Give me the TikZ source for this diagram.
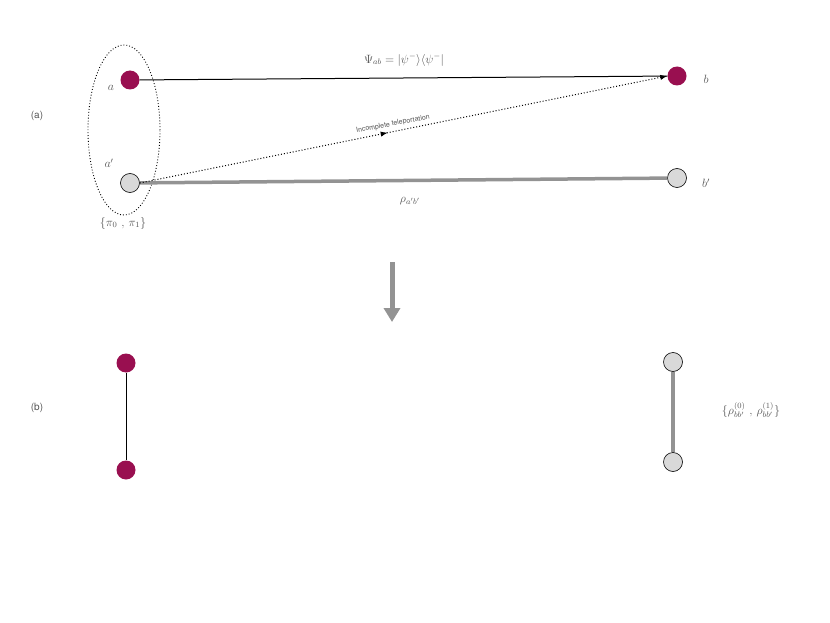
\documentclass[tikz,border=0pt]{standalone}
\usepackage{fontspec}
\setsansfont{TeX Gyre Heros}
\usetikzlibrary{arrows.meta,decorations.markings,shapes.geometric}
\definecolor{mag}{HTML}{990F50}
\definecolor{lgray}{HTML}{D9D9D9}
\definecolor{txt}{HTML}{555555}
\begin{document}
\begin{tikzpicture}[x=1pt,y=-1pt,
  qm/.style={circle,fill=mag,minimum size=19pt,inner sep=0pt},
  qg/.style={circle,draw=black,fill=lgray,line width=0.6pt,minimum size=19pt,inner sep=0pt},
  lab/.style={text=txt,font=\large},
  noise/.style={draw=gray!85,line width=3.5pt}]
\useasboundingbox (0,0) rectangle (830,623);
\node[qm] (a) at (130,80) {};
\node[qm] (b) at (677,76) {};
\node[qg] (ap) at (130,183) {};
\node[qg] (bp) at (677,178) {};
\node[lab] at (111,88) {$a$};
\node[lab] at (109,163) {$a'$};
\node[lab] at (706,79) {$b$};
\node[lab] at (706,183) {$b'$};
\node[text=txt,font=\sffamily] at (37,116) {(a)};
\node[text=txt,font=\sffamily] at (37,408) {(b)};
\node[draw,dotted,line width=0.9pt,ellipse,minimum width=72pt,minimum height=170pt] (e) at (124,130) {};
\node[lab] at (123,223) {$\{\pi_0\ ,\,\pi_1\}$};
\draw[noise] (ap) -- (bp);
\draw[line width=1pt] (a) -- (b);
\draw[dotted,line width=1pt,-{Latex[length=7pt]},
  postaction={decorate},decoration={markings,mark=at position 0.47 with {\arrow{Latex[length=7pt]}}}] (ap.east) -- (b.west);
\node[text=txt,font=\sffamily\scriptsize,rotate=10.3] at (393,124) {Incomplete teleportation};
\node[lab] at (404,60) {$\Psi_{ab}=|\psi^{-}\rangle\langle\psi^{-}|$};
\node[lab] at (410,201) {$\rho_{a'b'}$};
\coordinate (d1) at (392,262); \coordinate (d2) at (392,322);
\draw[gray!85,line width=5pt,-{Triangle[length=14pt,width=16pt]}] (d1) -- (d2);
\node[qm] (c) at (126,363) {};
\node[qm] (d) at (126,470) {};
\draw[line width=1pt] (c) -- (d);
\node[qg] (f) at (673,362) {};
\node[qg] (g) at (673,462) {};
\draw[noise] (f) -- (g);
\node[lab] at (751,410) {$\{\rho^{(0)}_{bb'}\ ,\,\rho^{(1)}_{bb'}\}$};
\end{tikzpicture}
\end{document}
